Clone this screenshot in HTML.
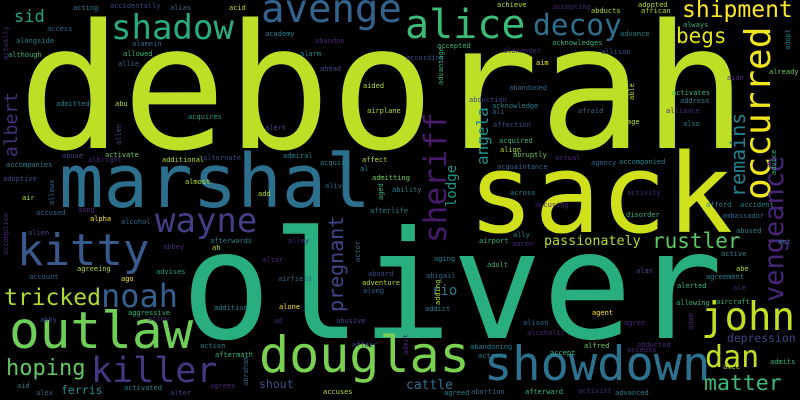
<!DOCTYPE html>
<html><head><meta charset="utf-8"><style>
html,body{margin:0;padding:0;background:#000;width:800px;height:400px;overflow:hidden}
svg{display:block}
text{font-family:"DejaVu Sans Mono","Liberation Mono",monospace}
</style></head><body>
<svg id="cloud" width="800" height="400" viewBox="0 0 800 400" xmlns="http://www.w3.org/2000/svg">
<rect width="800" height="400" fill="#000"/>
</svg>
<script>
// [word, x, baselineY, fontSize, color, rotated]
const words = [
["deborah",18,148,173,"#bddf26",0],
["oliver",181,338,150,"#29af7f",0],
["sack",468,232,110,"#d0e11c",0],
["marshal",59,207,74,"#2d708e",0],
["douglas",259,372,50,"#7ad151",0],
["showdown",484,380,47,"#2c728e",0],
["kitty",17,265,44,"#38598c",0],
["outlaw",9,348,51,"#6ece58",0],
["killer",91,382,35,"#453781",0],
["john",701,330,39,"#c2df23",0],
["alice",405,38,40,"#3bbb75",0],
["avenge",261,22,39,"#33638d",0],
["shadow",111,39,34,"#27ad81",0],
["decoy",533,35,29.5,"#2d708e",0],
["shipment",682,17,23,"#fde725",0],
["begs",676,43,21,"#e2e418",0],
["wayne",155,232,34,"#433e85",0],
["noah",101,307,32,"#355f8d",0],
["tricked",4,305,23,"#addc30",0],
["hoping",6,375,22,"#5ec962",0],
["ferris",61,394,11.5,"#228d8d",0],
["shout",259,388,11.5,"#3b528b",0],
["sid",14,22,17,"#20a486",0],
["rustler",652,248,21,"#5ec962",0],
["passionately",544,245,13.4,"#b5de2b",0],
["rio",432,295,14,"#2a788e",0],
["cattle",406,389,13,"#2d708e",0],
["dan",705,367,30,"#c2df23",0],
["matter",704,390,21.5,"#3bbb75",0],
["depression",727,342,11.4,"#404688",0],
["occurred",770,200,36,"#f1e51d",1],
["vengeance",783,302,27,"#482576",1],
["sheriff",446,243,31,"#481a6c",1],
["remains",745,197,20,"#277f8e",1],
["angela",488,165,16,"#21918c",1],
["lodge",456,207,14,"#1f968b",1],
["pregnant",343,312,20,"#3f4788",1],
["albert",17,157,18,"#46327e",1],
["acting",73,10,7,"#26828e",0],["accidentally",110,8,7,"#3e4989",0],["alias",170,10,7,"#31688e",0],["acid",229,10,7,"#b5de2b",0],
["access",47,31,7,"#31688e",0],["alongside",16,43,7,"#26828e",0],["alamein",132,46,7,"#31688e",0],["abandon",315,43,7,"#482878",0],
["accompanies",6,167,7,"#26828e",0],["although",8,57,7,"#35b779",0],["allowed",123,56,7,"#35b779",0],["alarm",300,56,7,"#26828e",0],
["allie",118,66,7,"#31688e",0],["ahead",320,71,7,"#3e4989",0],["academy",265,36,7,"#26828e",0],["aided",363,88,7,"#b5de2b",0],
["admitted",56,106,7,"#26828e",0],["abu",115,106,7,"#b5de2b",0],["acquires",188,119,7,"#1f9e89",0],["airplane",367,113,7,"#b5de2b",0],
["alert",265,130,7,"#3e4989",0],["abuse",62,158,7,"#3e4989",0],["activate",105,157,7,"#6ece58",0],["admiral",283,158,7,"#26828e",0],
["albright",88,162,7,"#482878",0],["additional",162,162,7,"#b5de2b",0],["alternate",203,160,7,"#3e4989",0],["affect",362,162,7,"#b5de2b",0],
["acquire",320,165,7,"#26828e",0],["al",360,171,7,"#26828e",0],["admitting",372,180,7,"#6ece58",0],["adoptive",3,181,7,"#3e4989",0],
["almost",185,184,7,"#b5de2b",0],["alive",325,188,7,"#31688e",0],["add",258,196,7,"#b5de2b",0],["air",22,200,7,"#b5de2b",0],
["ability",392,192,7,"#26828e",0],["achieve",497,7,7,"#b5de2b",0],["accepting",553,9,7,"#482878",0],["abducts",591,13,7,"#b5de2b",0],
["adopted",638,7,7,"#b5de2b",0],["african",641,13,7,"#b5de2b",0],["always",683,27,7,"#35b779",0],["advance",620,36,7,"#26828e",0],
["acknowledges",552,45,7,"#35b779",0],["accepted",437,48,7,"#35b779",0],["alexander",503,53,7,"#482878",0],["allison",601,54,7,"#3e4989",0],
["according",406,60,7,"#3e4989",0],["aim",536,65,7,"#fde725",0],["already",769,74,7,"#6ece58",0],["aide",727,80,7,"#482878",0],
["abandoned",509,90,7,"#31688e",0],["activates",672,95,7,"#35b779",0],["abduction",469,102,7,"#3e4989",0],["address",680,103,7,"#26828e",0],
["acknowledge",492,108,7,"#26828e",0],["ali",492,114,7,"#31688e",0],["afraid",578,113,7,"#31688e",0],["alliance",666,113,7,"#482878",0],
["affection",493,127,7,"#3e4989",0],["age",627,124,7,"#b5de2b",0],["also",683,126,7,"#26828e",0],["acquired",499,143,7,"#35b779",0],
["align",500,152,7,"#b5de2b",0],["abruptly",513,157,7,"#6ece58",0],["actual",555,160,7,"#482878",0],["agency",591,165,7,"#31688e",0],
["accompanied",619,164,7,"#26828e",0],["acquaintance",497,169,7,"#31688e",0],["activity",627,195,7,"#482878",0],["across",510,195,7,"#26828e",0],
["accused",36,215,7,"#31688e",0],["aang",78,212,7,"#482878",0],["alpha",90,221,7,"#fde725",0],["alcohol",121,224,7,"#31688e",0],
["afterlife",370,213,7,"#26828e",0],["alien",28,235,7,"#3e4989",0],["afterwards",210,243,7,"#26828e",0],["ah",212,250,7,"#b5de2b",0],
["abbey",163,249,7,"#482878",0],["alley",288,243,7,"#482878",0],["altar",262,262,7,"#482878",0],["agreeing",77,271,7,"#b5de2b",0],
["advises",156,274,7,"#1f9e89",0],["aboard",368,276,7,"#3e4989",0],["account",29,279,7,"#31688e",0],["ago",121,281,7,"#fde725",0],
["airfield",278,281,7,"#31688e",0],["adventure",362,285,7,"#b5de2b",0],["along",363,293,7,"#31688e",0],["addition",214,310,7,"#26828e",0],
["alone",279,309,7,"#fde725",0],["aggressive",128,315,7,"#35b779",0],["allow",148,321,7,"#482878",0],["abby",40,322,7,"#3e4989",0],
["ad",274,323,7,"#482878",0],["abusive",336,323,7,"#3e4989",0],["action",200,348,7,"#26828e",0],["affair",352,347,7,"#3e4989",0],
["aftermath",215,357,7,"#35b779",0],["aid",17,388,7,"#26828e",0],["agrees",210,388,7,"#482878",0],["alex",36,395,7,"#31688e",0],
["activated",124,390,7,"#26828e",0],["alter",170,395,7,"#3e4989",0],["accuses",323,394,7,"#b5de2b",0],
["accusing",535,207,7,"#482878",0],["afford",706,207,7,"#26828e",0],["accident",740,207,7,"#26828e",0],["disorder",626,217,7,"#35b779",0],
["ambassador",722,218,7,"#31688e",0],["abused",736,233,7,"#26828e",0],["act",778,244,7,"#26828e",0],["ally",513,237,7,"#26828e",0],
["airport",479,243,7,"#35b779",0],["aaron",512,246,7,"#482878",0],["active",721,256,7,"#26828e",0],["aging",434,261,7,"#26828e",0],
["adult",487,267,7,"#35b779",0],["alan",636,273,7,"#3e4989",0],["abe",736,271,7,"#b5de2b",0],["abigail",426,278,7,"#31688e",0],
["agreement",706,279,7,"#26828e",0],["alerted",677,288,7,"#35b779",0],["ale",733,290,7,"#482878",0],["allowing",676,305,7,"#35b779",0],
["aircraft",716,304,7,"#35b779",0],["addict",425,311,7,"#26828e",0],["agent",592,315,7,"#fde725",0],["alison",523,325,7,"#31688e",0],
["agree",624,325,7,"#482878",0],["alcoholic",527,335,7,"#482878",0],["abandoning",470,349,7,"#26828e",0],["alfred",584,348,7,"#6ece58",0],
["abducted",637,347,7,"#482878",0],["accept",550,355,7,"#35b779",0],["accepts",627,352,7,"#482878",0],["actress",478,358,7,"#26828e",0],
["admits",770,364,7,"#35b779",0],["alec",723,369,7,"#b5de2b",0],["agreed",444,395,7,"#26828e",0],["abortion",471,394,7,"#31688e",0],
["afterward",525,394,7,"#35b779",0],["activist",578,393,7,"#482878",0],["advanced",615,395,7,"#26828e",0],
["actually",8,60,7,"#482878",1],["allen",121,145,7,"#3e4989",1],["allows",54,205,7,"#31688e",1],["aged",383,200,7,"#35b779",1],
["advantage",443,85,7,"#35b779",1],["adopt",790,50,7,"#26828e",1],["able",634,100,7,"#b5de2b",1],["advice",776,175,7,"#35b779",1],
["accomplice",8,255,7,"#482878",1],["actor",360,262,7,"#31688e",1],["abraham",248,386,7,"#31688e",1],["adding",440,305,7,"#b5de2b",1],
["adam",693,330,7,"#482878",1],["admit",408,355,7,"#482878",1]
];
const svg = document.getElementById('cloud');
const NS = 'http://www.w3.org/2000/svg';
for (const w of words) {
  const el = document.createElementNS(NS, 'text');
  el.textContent = w[0];
  el.setAttribute('x', w[1]);
  el.setAttribute('y', w[2]);
  el.setAttribute('font-size', w[3]);
  el.setAttribute('fill', w[4]);
  if (w[5]) el.setAttribute('transform', 'rotate(-90 ' + w[1] + ' ' + w[2] + ')');
  
  
  svg.appendChild(el);
}
</script>
</body></html>
